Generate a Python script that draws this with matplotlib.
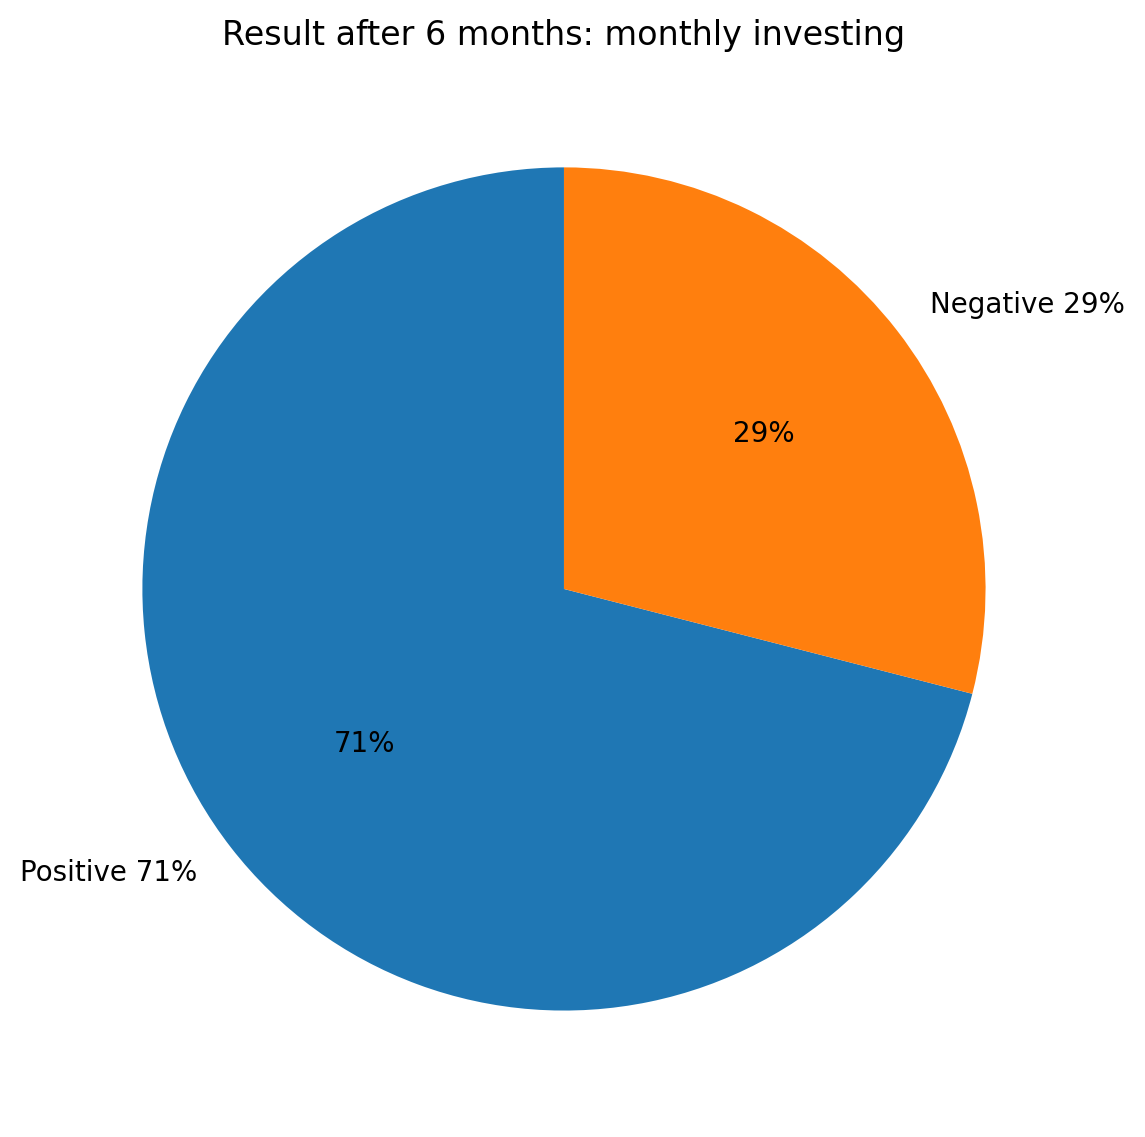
import matplotlib
matplotlib.use('Agg')
import matplotlib.pyplot as plt

labels = ['Positive', 'Negative']
shares = [71, 29]
colors = ['#1f77b4', '#ff7f0e']
title = 'Result after 6 months: monthly investing'

fig = plt.figure(figsize=(11.45 / 2, 11.37 / 2), dpi=200)
ax = fig.add_axes([0.0323, 0.0185, 0.9205, 0.927])
ax.pie(shares,
       labels=[f'{l} {v}%' for l, v in zip(labels, shares)],
       colors=colors, autopct='%1.0f%%', startangle=90)
ax.set_title(title)
ax.set_aspect('equal')
fig.savefig('out.png', dpi=200)
